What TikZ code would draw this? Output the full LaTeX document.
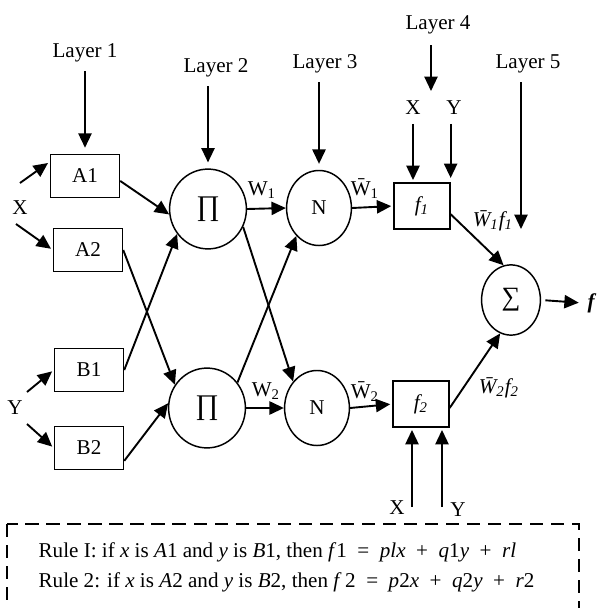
\documentclass[tikz,border=0pt]{standalone}
\usepackage{fontspec}
\setmainfont{Liberation Serif}
\usetikzlibrary{positioning, arrows.meta, shapes.geometric, calc}

\newcommand{\prodsym}{{\fontsize{13.5}{13.5}\selectfont ∏}}
\newcommand{\sumsym}{{\fontsize{12.5}{12.5}\selectfont ∑}}

\begin{document}
\begin{tikzpicture}[
  x=0.016667cm, y=-0.016667cm,
  every node/.style={font=\fontsize{10}{12}\selectfont, inner sep=2pt},
  mf/.style={draw, line width=0.7pt, minimum width=1.15cm, minimum height=0.72cm},
  fbox/.style={draw, line width=0.7pt, minimum width=0.93cm, minimum height=0.77cm},
  op/.style={draw, ellipse, line width=0.7pt, minimum width=1.28cm, minimum height=1.33cm},
  nrm/.style={draw, ellipse, line width=0.7pt, minimum width=1.08cm, minimum height=1.25cm},
  arrow/.style={-{Triangle[length=2.4mm, width=2.2mm]}, line width=0.9pt},
  layer/.style={arrow, shorten <=2pt, shorten >=2.8pt}
]
\useasboundingbox (0,0) rectangle (600,608);

% layer labels
\node (l1) at (85,53) {Layer 1};
\node (l2) at (216,68) {Layer 2};
\node (l3) at (325,64) {Layer 3};
\node (l4) at (438,25) {Layer 4};
\node (l5) at (528,64) {Layer 5};

% inputs
\node (xin) at (20,208) {X};
\node (yin) at (15,408) {Y};

% layer 1: membership functions
\node[mf] (a1) at (85,176) {A1};
\node[mf] (a2) at (88,250) {A2};
\node[mf] (b1) at (89,370) {B1};
\node[mf] (b2) at (89,448) {B2};

% layers 2 and 3
\node[op] (p1) at (208,209) {\prodsym};
\node[op] (p2) at (207,408) {\prodsym};
\node[nrm] (n1) at (319,208) {N};
\node[nrm] (n2) at (317,408) {N};

% layers 4 and 5
\node[fbox] (f1) at (422,206) {\textit{f\textsubscript{1}}};
\node[fbox] (f2) at (421,404) {\textit{f\textsubscript{2}}};
\node[draw, ellipse, line width=0.7pt, minimum width=0.98cm, minimum height=1.17cm] (sum) at (511,300) {\sumsym};
\node (out) at (592,303) {\textbf{\textit{f}}};

% consequent inputs
\node (xt) at (413,108) {X};
\node (yt) at (454,108) {Y};
\node (xb) at (397,508) {X};
\node (yb) at (458,510) {Y};

% weights
\node (w1) at (262,190) {W\textsubscript{1}};
\node (w2) at (266,391) {W\textsubscript{2}};
\node (wb1) at (365,189) {\={W}\textsubscript{1}};
\node (wb2) at (365,392) {\={W}\textsubscript{2}};
\node (wf1) at (493,221) {\textit{\={W}\textsubscript{1}f\textsubscript{1}}};
\node (wf2) at (499,388) {\textit{\={W}\textsubscript{2}f\textsubscript{2}}};

% free ends
\coordinate (xa) at ($(xin)+(0,-25)$);
\coordinate (xc) at ($(xin)+(-4,16)$);
\coordinate (ya) at ($(yin)+(12,-16)$);
\coordinate (yc) at ($(yin)+(12,16)$);
\coordinate (l4e) at (431,91);
\coordinate (l5e) at (521,229);
\coordinate (xbt) at (412,507);
\coordinate (ybt) at (442,507);

\draw[layer] (l1.south) -- (a1.north);
\draw[layer] (l2.south -| p1.north) -- (p1.north);
\draw[layer] (l3.south -| n1.north) -- (n1.north);
\draw[arrow, shorten <=3pt] (l4.south -| l4e) -- (l4e);
\draw[arrow, shorten <=2pt] (l5.south -| l5e) -- (l5e);

\draw[arrow, shorten >=1pt] (xa) -- (a1.158);
\draw[arrow, shorten >=1pt] (xc) -- (a2.west);
\draw[arrow, shorten >=1pt] (ya) -- (b1.west);
\draw[arrow, shorten >=1pt] (yc) -- (b2.west);

\draw[arrow] (a1.-8) -- (p1.188);
\draw[arrow] (a2.east) -- (p2.144);
\draw[arrow] (b1.east) -- (p1.219);
\draw[arrow] (b2.-20) -- (p2.173);

\draw[arrow] (p1.east) -- (n1.west);
\draw[arrow] (p2.east) -- (n2.west);
\draw[arrow] (p1.-27) -- (n2.132);
\draw[arrow] (p2.40) -- (n1.231);

\draw[arrow, shorten >=1pt] (n1.east) -- (f1.west);
\draw[arrow, shorten >=1pt] (n2.east) -- (f2.west);

\draw[arrow, shorten <=2pt, shorten >=1pt] (xt.south) -- (xt.south |- f1.north);
\draw[arrow, shorten <=2pt, shorten >=2pt] (yt.south -| f1.north east) -- (f1.north east);
\draw[arrow, shorten >=1pt] (xbt) -- (xbt |- f2.south);
\draw[arrow, shorten >=1pt] (ybt) -- (ybt |- f2.south);

\draw[arrow] (f1.-16) -- (sum.102);
\draw[arrow] (f2.-8) -- (sum.252);
\draw[arrow, shorten <=2pt, shorten >=2pt] (sum.east) -- (out.west);

% rule base
\node[anchor=west, align=left, font=\fontsize{10}{14.2}\selectfont] (rules) at (34,567)
{Rule I: if \textit{x} is \textit{A}1 and \textit{y} is \textit{B}1, then \textit{f}1 \ = \ \textit{plx} \ + \ \textit{q}1\textit{y} \ + \ \textit{rl}\\
Rule 2: if \textit{x} is \textit{A}2 and \textit{y} is \textit{B}2, then \textit{f}\,2 \ = \ \textit{p}2\textit{x} \ + \ \textit{q}2\textit{y} \ + \ \textit{r}2};
\draw[dashed, dash pattern=on 2.2mm off 1.3mm, line width=0.8pt] (7,524) rectangle (579,640);

\end{tikzpicture}
\end{document}
